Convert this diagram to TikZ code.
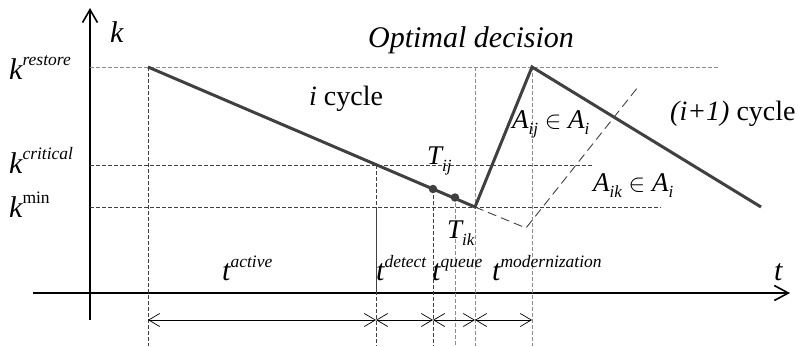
\documentclass[tikz,border=0pt]{standalone}
\usepackage{fontspec}
\setmainfont{Liberation Serif}
\usetikzlibrary{arrows.meta}
\newcommand{\sps}[2][13pt]{\raisebox{#1}{\fontsize{17.5}{17.5}\selectfont #2}}
\newcommand{\sbs}[2][-7pt]{\raisebox{#1}{\fontsize{17}{17}\selectfont\itshape #2}}
\begin{document}
\begin{tikzpicture}[x=1pt,y=-1pt,
  curve/.style={line width=3pt, draw=black!75},
  axis/.style={line width=1.6pt, draw=black},
  griddark/.style={draw=black!75, line width=0.7pt, dash pattern=on 3.5pt off 2.5pt},
  gridlight/.style={draw=black!45, line width=0.8pt, dash pattern=on 3.5pt off 2.5pt},
  construct/.style={draw=black!75, line width=0.9pt, dash pattern=on 9pt off 5pt},
  dimline/.style={line width=0.7pt, draw=black, {Straight Barb[length=11pt,width=13pt]}-{Straight Barb[length=11pt,width=13pt]}},
  dot/.style={circle, fill=black!75, inner sep=0pt, minimum size=8.5pt},
  lbl/.style={inner sep=0pt, font=\fontsize{30}{34}\selectfont},
  lblc/.style={inner sep=0pt, font=\fontsize{28}{32}\selectfont},
  lblm/.style={inner sep=0pt, font=\fontsize{27}{31}\selectfont},
  every node/.style={inner sep=0pt}
]
\useasboundingbox (0,0) rectangle (798,346);
% axes
\coordinate (ybot) at (90,320);
\coordinate (ytop) at (90,8);
\coordinate (xl) at (33,293);
\coordinate (xr) at (790,293);
\draw[axis,-{Straight Barb[length=13pt,width=15pt]}] (ybot) -- (ytop);
\draw[axis,-{Straight Barb[length=14pt,width=15pt]}] (xl) -- (xr);
% key points
\coordinate (P1) at (148,67);
\coordinate (P2) at (475,207);
\coordinate (P3) at (532,67);
\coordinate (P4) at (761,207);
\coordinate (E) at (526,228);
\coordinate (F) at (638,87);
% horizontal grid
\coordinate (hr0) at (90,67);   \coordinate (hr1) at (718,67);
\coordinate (hc0) at (90,165);  \coordinate (hc1) at (592,165);
\coordinate (hm0) at (90,207);  \coordinate (hm1) at (661,207);
\draw[gridlight] (hr0) -- (hr1);
\draw[griddark] (hc0) -- (hc1);
\draw[griddark] (hm0) -- (hm1);
% vertical grid
\coordinate (v1t) at (148,67);  \coordinate (v1b) at (148,346);
\coordinate (v2t) at (376,165); \coordinate (v2b) at (376,346);
\coordinate (v2m) at (376,207); \coordinate (v2a) at (376,293);
\coordinate (v3t) at (433,189); \coordinate (v3b) at (433,346);
\coordinate (v4t) at (455,197); \coordinate (v4b) at (455,346);
\coordinate (v5t) at (475,67);  \coordinate (v5b) at (475,346);
\coordinate (v6t) at (532,67);  \coordinate (v6b) at (532,346);
\draw[griddark] (v1t) -- (v1b);
\draw[griddark] (v2t) -- (v2b);
\draw[line width=0.7pt, black!75] (v2m) -- (v2a);
\draw[griddark] (v3t) -- (v3b);
\draw[gridlight] (v4t) -- (v4b);
\draw[gridlight] (v5t) -- (v5b);
\draw[gridlight] (v6t) -- (v6b);
% construction line
\draw[construct] (P2) -- (E) -- (F);
% main curve
\draw[curve, line join=miter] (P1) -- (P2) -- (P3) -- (P4);
\node[dot] (Tij) at (433,189) {};
\node[dot] (Tik) at (455,197.5) {};
% dimension arrows
\coordinate (d0) at (148,320);
\coordinate (d1) at (376,320);
\coordinate (d2) at (433,320);
\coordinate (d3) at (475,320);
\coordinate (d4) at (532,320);
\draw[dimline] (d0) -- (d1);
\draw[dimline] (d1) -- (d2);
\draw[dimline] (d2) -- (d3);
\draw[dimline] (d3) -- (d4);
% labels
\node[lbl, anchor=base west] (lk) at (110,42) {\itshape k};
\node[lbl, anchor=base west] (lt) at (774,280) {\itshape t};
\node[lbl, anchor=base west] (lkr) at (9,79) {\itshape k\sps[14pt]{restore}};
\node[lbl, anchor=base west] (lkc) at (9,173) {\itshape k\sps[14pt]{critical}};
\node[lbl, anchor=base west] (lkm) at (9,217) {\itshape k\sps[14pt]{\upshape min}};
\node[lbl, anchor=base west] (lta) at (222,280) {\itshape t\sps{active}};
\node[lbl, anchor=base west] (ltd) at (376,280) {\itshape t\sps{detect}};
\node[lbl, anchor=base west] (ltq) at (432,280) {\itshape t\sps{queue}};
\node[lbl, anchor=base west] (ltm) at (492,280) {\itshape t\sps{modernization}};
\node[lbl, anchor=base] (lod) at (471,47) {\itshape Optimal decision};
\node[lblc, anchor=base west] (lic) at (309,105) {\textit{i} cycle};
\node[lblc, anchor=base west] (li1) at (670,120) {\textit{(i+1)} cycle};
\node[lblm, anchor=base west] (lTij) at (427,164) {\itshape T\sbs{ij}};
\node[lblm, anchor=base west] (lTik) at (447,238) {\itshape T\sbs{ik}};
\node[lblm, anchor=base west] (lAij) at (512,128) {\itshape A\sbs[-6pt]{ij} $\in$ A\sbs[-6pt]{i}};
\node[lblm, anchor=base west] (lAik) at (593,191) {\itshape A\sbs[-6pt]{ik} $\in$ A\sbs[-6pt]{i}};
\end{tikzpicture}
\end{document}
